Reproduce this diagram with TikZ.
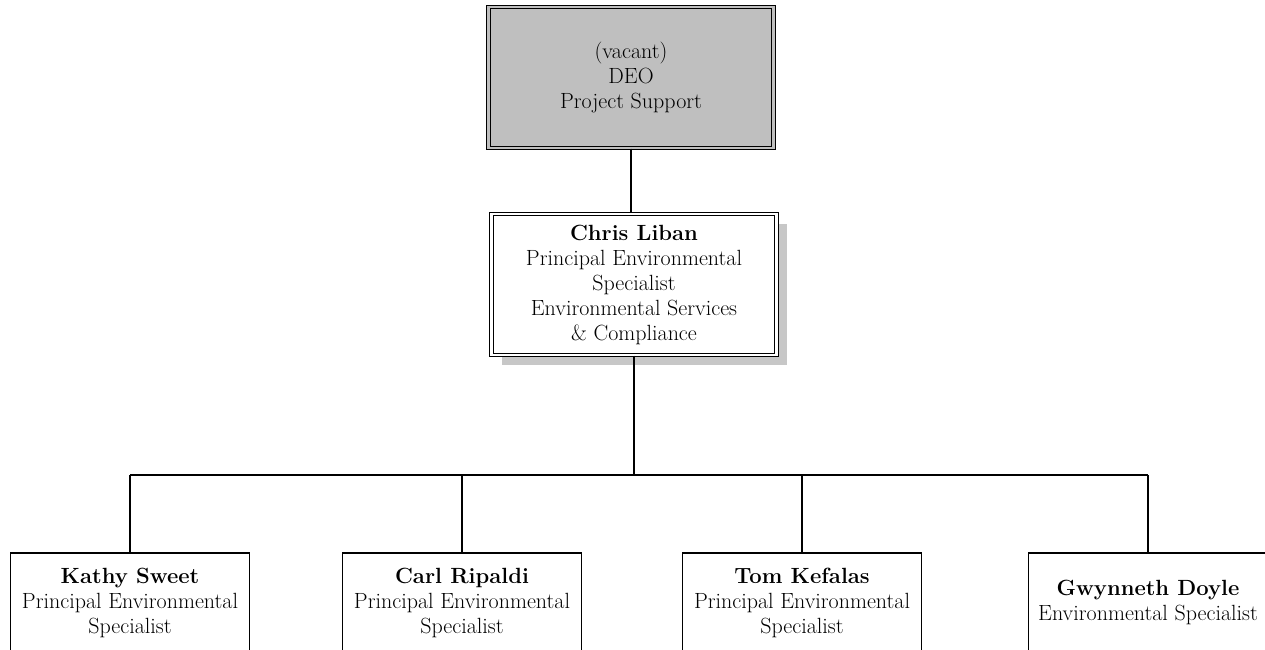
\documentclass[tikz,border=0pt]{standalone}
\usetikzlibrary{shadows}

\begin{document}
\begin{tikzpicture}[
    x=1pt, y=-1pt,
    card/.style={draw, line width=1.4pt, fill=white, align=center, inner sep=0pt,
        font=\fontsize{22}{25}\selectfont},
    head/.style={card, double, double distance=2.2pt, line width=1.2pt,
        minimum width=285pt, minimum height=141pt},
    vacant/.style={head, fill=black!25, double=black!25},
    boss/.style={head, double=white,
        drop shadow={shadow xshift=10pt, shadow yshift=-10pt, fill=black!22, opacity=1}},
    staff/.style={card, minimum width=239pt, minimum height=99pt},
    line/.style={line width=1.5pt}
]
    \clip (0, 0) rectangle (1265, 649);
    \fill[white] (0, 0) rectangle (1265, 649);

    % ==========================================
    % Top: vacant DEO and manager
    % ==========================================
    \node[vacant] (deo) at (631, 77.5) {(vacant)\\DEO\\Project Support};
    \node[boss] (liban) at (634, 284.5) {\textbf{Chris Liban}\\Principal Environmental\\Specialist\\Environmental Services\\\& Compliance};

    \draw[line] (deo.south) -- (deo.south |- liban.north);

    % ==========================================
    % Bottom: staff row
    % ==========================================
    \node[staff] (sweet) at (130, 602.5) {\textbf{Kathy Sweet}\\Principal Environmental\\Specialist};
    \node[staff] (ripaldi) at (462, 602.5) {\textbf{Carl Ripaldi}\\Principal Environmental\\Specialist};
    \node[staff] (kefalas) at (802, 602.5) {\textbf{Tom Kefalas}\\Principal Environmental\\Specialist};
    \node[staff] (doyle) at (1148, 602.5) {\textbf{Gwynneth Doyle}\\Environmental Specialist};

    % Bus from manager down to the staff row
    \coordinate (bus) at (634, 475);
    \draw[line] (liban.south) -- (bus);
    \draw[line] (sweet.north |- bus) -- (doyle.north |- bus);
    \foreach \who in {sweet, ripaldi, kefalas, doyle}
        \draw[line] (\who.north |- bus) -- (\who.north);

\end{tikzpicture}
\end{document}
